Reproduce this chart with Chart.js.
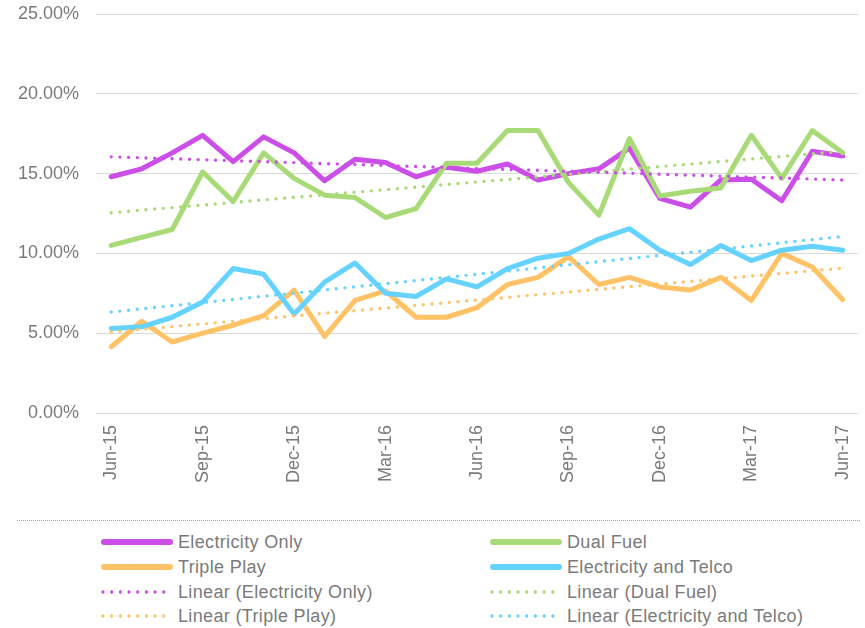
<!DOCTYPE html>
<html>
<head>
<meta charset="utf-8">
<script src="https://cdn.jsdelivr.net/npm/chart.js@4/dist/chart.umd.min.js"></script>
<style>
  html, body { margin: 0; padding: 0; background: #ffffff; }
  body { width: 865px; height: 628px; position: relative; overflow: hidden;
         font-family: "Liberation Sans", Arial, sans-serif; }
  #wrap { position: absolute; left: 0; top: 0; width: 865px; height: 505px; }
  #sep { position: absolute; left: 17px; top: 520px; width: 843px; height: 0;
         border-top: 1px dotted #a6a6a6; }
  .lg { position: absolute; height: 24px; display: flex; align-items: center;
        font-size: 18px; letter-spacing: 0.35px; color: #7a7a7a; white-space: nowrap; }
  .sw { width: 72px; height: 6px; margin-right: 5px; flex: none; }
</style>
</head>
<body>
<div id="wrap"><canvas id="c" width="865" height="505"></canvas></div>
<div id="sep"></div>
<div id="legend"></div>
<script>
// ---- data ----
const months = ['Jun-15','Jul-15','Aug-15','Sep-15','Oct-15','Nov-15','Dec-15','Jan-16','Feb-16','Mar-16','Apr-16','May-16','Jun-16','Jul-16','Aug-16','Sep-16','Oct-16','Nov-16','Dec-16','Jan-17','Feb-17','Mar-17','Apr-17','May-17','Jun-17'];
const seriesNames = ['Electricity Only','Dual Fuel','Triple Play','Electricity and Telco'];
const electricityOnly = [14.8,15.3,16.3,17.4,15.75,17.3,16.3,14.55,15.9,15.7,14.8,15.4,15.15,15.6,14.6,15.0,15.3,16.6,13.45,12.9,14.6,14.65,13.3,16.4,16.1];
const dualFuel        = [10.5,11.0,11.5,15.1,13.25,16.3,14.7,13.65,13.5,12.25,12.8,15.65,15.65,17.7,17.7,14.45,12.4,17.2,13.6,13.9,14.1,17.4,14.7,17.7,16.3];
const triplePlay      = [4.15,5.75,4.45,5.0,5.5,6.1,7.7,4.8,7.05,7.65,6.0,6.0,6.6,8.05,8.5,9.8,8.05,8.5,7.9,7.7,8.5,7.05,10.0,9.15,7.1];
const elecTelco       = [5.3,5.4,6.0,6.95,9.05,8.7,6.2,8.2,9.4,7.5,7.3,8.4,7.9,9.05,9.7,10.0,10.9,11.55,10.2,9.3,10.5,9.55,10.2,10.45,10.2];
// linear trend lines: value at first month and at last month
const trendStart = [16.05, 12.55, 5.08, 6.33];
const trendEnd   = [14.6, 16.4, 9.08, 11.06];
const yTicks = [0, 5, 10, 15, 20, 25];

const colors = ['#cc4ee8', '#a9da78', '#ffc266', '#66d2ff'];
const FONT = '"Liberation Sans", Arial, sans-serif';
const TEXT = '#7a7a7a';

const seriesData = [electricityOnly, dualFuel, triplePlay, elecTelco];
const solidOrder = [4, 3, 2, 1];

function trendData(i) {
  return months.map((m, k) => k === 0 ? trendStart[i] : (k === months.length - 1 ? trendEnd[i] : null));
}

const datasets = [];
// legend order: row-major over 2 columns
[[0,1],[2,3]].forEach(pair => pair.forEach(i => {
  datasets.push({
    label: seriesNames[i], data: seriesData[i], borderColor: colors[i], backgroundColor: colors[i],
    borderWidth: 5, pointRadius: 0, tension: 0, borderCapStyle: 'round', borderJoinStyle: 'round',
    order: solidOrder[i], fill: false, _dotted: false
  });
}));
[[0,1],[2,3]].forEach(pair => pair.forEach(i => {
  datasets.push({
    label: 'Linear (' + seriesNames[i] + ')', data: trendData(i), borderColor: colors[i], backgroundColor: colors[i],
    borderWidth: 3.4, pointRadius: 0, tension: 0, borderCapStyle: 'round', borderDash: [0, 8.7],
    spanGaps: true, order: 0, fill: false, _dotted: true
  });
}));

const chart = new Chart(document.getElementById('c'), {
  type: 'line',
  data: { labels: months, datasets: datasets },
  options: {
    responsive: false, animation: false, maintainAspectRatio: false,
    layout: { padding: { top: 14, right: 7, left: 0, bottom: 0 } },
    plugins: { legend: { display: false }, tooltip: { enabled: false } },
    scales: {
      x: {
        offset: true,
        grid: { display: false, drawTicks: false },
        border: { display: false },
        ticks: {
          autoSkip: false, minRotation: 90, maxRotation: 90, padding: 12,
          color: TEXT, font: { family: FONT, size: 18 },
          callback: function (v, idx) { return idx % 3 === 0 ? months[idx] : ''; }
        },
        afterFit: function (s) { s.height = 92; s.paddingLeft = 0; s.paddingRight = 0; }
      },
      y: {
        min: 0, max: 25,
        afterBuildTicks: function (s) { s.ticks = yTicks.map(v => ({ value: v })); },
        grid: { color: '#d9d9d9', lineWidth: 1, drawTicks: false },
        border: { display: false },
        ticks: {
          padding: 17, color: TEXT, font: { family: FONT, size: 18 },
          callback: function (v) { return Number(v).toFixed(2) + '%'; }
        },
        afterFit: function (s) { s.width = 96; s.paddingTop = 0; s.paddingBottom = 0; }
      }
    }
  }
});

// HTML legend built from chart datasets
const lg = document.getElementById('legend');
const rowsY = [530, 555, 580, 604];
const colX = [101, 490];
chart.data.datasets.forEach((ds, k) => {
  const row = Math.floor(k / 2), col = k % 2;
  const item = document.createElement('div');
  item.className = 'lg';
  item.style.left = colX[col] + 'px';
  item.style.top = rowsY[row] + 'px';
  const sw = document.createElement('div');
  sw.className = 'sw';
  if (ds._dotted) {
    sw.style.backgroundImage = 'radial-gradient(circle, ' + ds.borderColor + ' 1.5px, transparent 1.9px)';
    sw.style.backgroundSize = '8.7px 6px';
    sw.style.backgroundPosition = '-2.4px 0';
    sw.style.width = '66px';
    sw.style.marginRight = '11px';
  } else {
    sw.style.background = ds.borderColor;
    sw.style.borderRadius = '3px';
  }
  const tx = document.createElement('span');
  tx.textContent = ds.label;
  item.appendChild(sw);
  item.appendChild(tx);
  lg.appendChild(item);
});
</script>
</body>
</html>
